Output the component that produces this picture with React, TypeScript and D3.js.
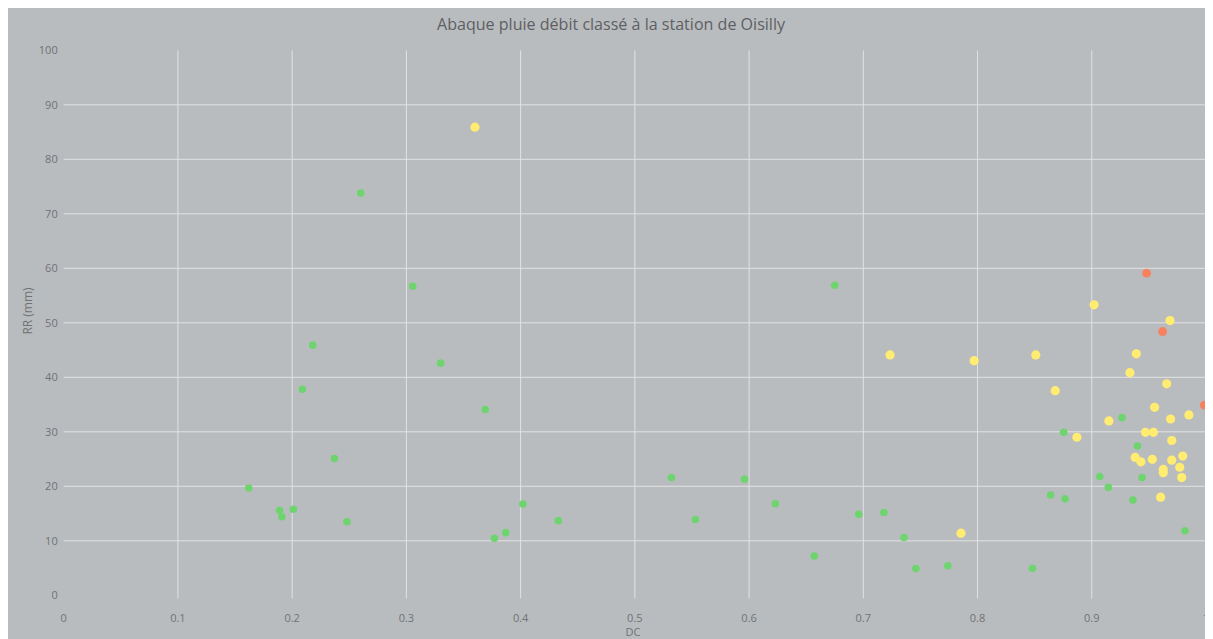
import React from "react";
import * as d3 from "d3";

const title = "Abaque pluie débit classé à la station de Oisilly";
const xTicks = [0, 0.1, 0.2, 0.3, 0.4, 0.5, 0.6, 0.7, 0.8, 0.9, 1];
const yTicks = [0, 10, 20, 30, 40, 50, 60, 70, 80, 90, 100];

const greenDC = [0.162, 0.189, 0.191, 0.201, 0.209, 0.218, 0.237, 0.248, 0.26, 0.3055, 0.33, 0.369, 0.377, 0.387, 0.402, 0.433, 0.532, 0.553, 0.596, 0.623, 0.657, 0.675, 0.696, 0.718, 0.7356, 0.746, 0.774, 0.848, 0.864, 0.8766, 0.8754, 0.907, 0.9145, 0.9265, 0.936, 0.94, 0.944, 0.9816];
const greenRR = [19.7, 15.6, 14.4, 15.8, 37.8, 45.9, 25.1, 13.5, 73.8, 56.7, 42.6, 34.1, 10.45, 11.5, 16.75, 13.7, 21.6, 13.9, 21.3, 16.8, 7.2, 56.9, 14.85, 15.2, 10.6, 4.9, 5.4, 4.95, 18.4, 17.7, 29.9, 21.8, 19.8, 32.6, 17.5, 27.4, 21.6, 11.85];

const yellowDC = [0.36, 0.7234, 0.7855, 0.797, 0.851, 0.868, 0.887, 0.902, 0.915, 0.9334, 0.938, 0.939, 0.943, 0.947, 0.953, 0.954, 0.955, 0.9603, 0.9626, 0.9626, 0.9656, 0.9685, 0.969, 0.97, 0.97, 0.977, 0.9787, 0.9796, 0.985];
const yellowRR = [85.9, 44.1, 11.4, 43.05, 44.1, 37.55, 29.0, 53.3, 32.0, 40.85, 25.3, 44.3, 24.5, 29.9, 24.95, 29.9, 34.5, 18.0, 23.1, 22.5, 38.8, 50.4, 32.35, 28.4, 24.8, 23.5, 21.6, 25.55, 33.1];

const redDC = [0.948, 0.962, 0.9985];
const redRR = [59.1, 48.4, 34.9];

const W = 1205;
const H = 631;
const OFF = 8;
const plotLeft = 63.7 - OFF;
const plotRight = 1206 - OFF;
const plotTop = 50.3 - OFF;
const plotBottom = 595.3 - OFF;

export default function App() {
  const x = d3.scaleLinear().domain([0, 1]).range([plotLeft, plotRight]);
  const y = d3.scaleLinear().domain([0, 100]).range([plotBottom, plotTop]);

  const font = "'Liberation Sans Narrow', 'Open Sans', 'DejaVu Sans', sans-serif";

  const series = [
    { dc: greenDC, rr: greenRR, color: "#6ed46e", r: 3.8, key: "g" },
    { dc: yellowDC, rr: yellowRR, color: "#ffec70", r: 4.6, key: "y" },
    { dc: redDC, rr: redRR, color: "#f7815f", r: 4.4, key: "r" },
  ];

  return (
    <svg width={W} height={H} style={{ display: "block", fontFamily: font }}>
      <defs>
        <filter id="soft" x="-1" y="-1" width="3" height="3">
          <feGaussianBlur stdDeviation="0.6" />
        </filter>
      </defs>
      <rect x={0} y={0} width={W} height={H} fill="#b9bcbf" />
      <text
        x={603}
        y={25 - OFF + 5}
        textAnchor="middle"
        fontSize={16}
        fill="#5e6063"
        textLength={348}
        lengthAdjust="spacingAndGlyphs"
      >
        {title}
      </text>
      {yTicks.filter((t) => t > 0 && t < 100).map((t) => (
        <line key={"hy" + t} x1={x(0)} x2={x(1)} y1={y(t)} y2={y(t)} stroke="#e1e2e3" strokeWidth={1} />
      ))}
      {xTicks.filter((t) => t > 0 && t < 1).map((t) => (
        <line key={"vx" + t} x1={x(t)} x2={x(t)} y1={y(100)} y2={y(0) + 3} stroke="#e1e2e3" strokeWidth={1} />
      ))}
      {yTicks.map((t) => (
        <text key={"yl" + t} x={x(0) - 6} y={y(t)} dy="0.35em" textAnchor="end" fontSize={11} fill="#707275">
          {t}
        </text>
      ))}
      {xTicks.map((t) => (
        <text key={"xl" + t} x={x(t)} y={618 - OFF} dy="0.35em" textAnchor="middle" fontSize={11} fill="#707275">
          {String(t)}
        </text>
      ))}
      <text x={633 - OFF} y={636 - OFF} textAnchor="middle" fontSize={11} fill="#707275">DC</text>
      <text
        transform={`translate(${28 - OFF},${311 - OFF}) rotate(-90)`}
        textAnchor="middle"
        dy="0.35em"
        fontSize={12}
        fill="#707275"
      >
        RR (mm)
      </text>
      {series.map((s) => (
        <g key={s.key}>
          {s.dc.map((d, i) => (
            <circle key={i} cx={x(d)} cy={y(s.rr[i])} r={s.r} fill={s.color} filter="url(#soft)" />
          ))}
        </g>
      ))}
    </svg>
  );
}
